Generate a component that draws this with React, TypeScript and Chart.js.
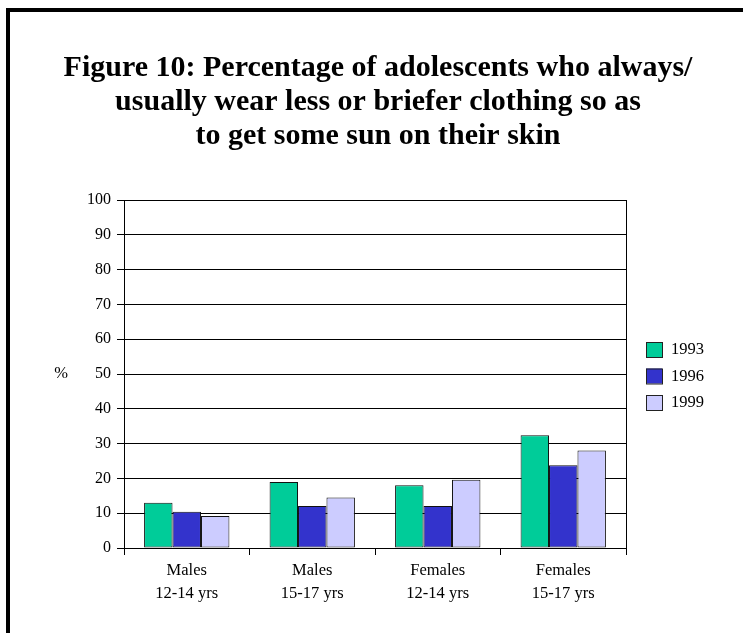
import React, { useEffect, useRef } from "react";
import { Chart, registerables } from "chart.js";

Chart.register(...registerables);

const categories: string[][] = [
  ["Males", "12-14 yrs"],
  ["Males", "15-17 yrs"],
  ["Females", "12-14 yrs"],
  ["Females", "15-17 yrs"],
];
const years = ["1993", "1996", "1999"];
const values1993 = [13, 19, 18, 32.4];
const values1996 = [10.4, 12.1, 12.1, 23.8];
const values1999 = [9.2, 14.5, 19.6, 28];
const yearColors = ["#00CC99", "#3333CC", "#CCCCFF"];
const titleLines = [
  "Figure 10: Percentage of adolescents who always/",
  "usually wear less or briefer clothing so as",
  "to get some sun on their skin",
];
const yAxisLabel = "%";
const Y_MIN = 0;
const Y_MAX = 100;
const Y_STEP = 10;

const SERIF = '"Liberation Serif", "Times New Roman", serif';
const W = 743;
const H = 633;

// Outer frame, heading, "%" label, plot border and the year key.
const decorations = {
  id: "decorations",
  afterDraw(chart: any) {
    const { ctx, chartArea } = chart;
    ctx.save();

    // frame
    ctx.fillStyle = "#000";
    ctx.fillRect(6, 8, 4, H - 8);
    ctx.fillRect(6, 8, W - 6, 4);

    // heading
    ctx.font = `bold 30px ${SERIF}`;
    ctx.textAlign = "center";
    ctx.textBaseline = "alphabetic";
    titleLines.forEach((line, i) => {
      ctx.fillText(line, 378, 76 + i * 34);
    });

    // plot border on the right
    ctx.strokeStyle = "#000";
    ctx.lineWidth = 1;
    ctx.beginPath();
    ctx.moveTo(Math.round(chartArea.right) + 0.5, chartArea.top);
    ctx.lineTo(Math.round(chartArea.right) + 0.5, chartArea.bottom);
    ctx.stroke();

    // y axis unit
    const yScale = chart.scales.y;
    ctx.font = `16.5px ${SERIF}`;
    ctx.textAlign = "center";
    ctx.textBaseline = "middle";
    ctx.fillText(yAxisLabel, 61, yScale.getPixelForValue(50));

    // key
    ctx.textAlign = "left";
    chart.data.datasets.forEach((ds: any, i: number) => {
      const top = 342 + i * 26.5;
      ctx.fillStyle = ds.backgroundColor;
      ctx.fillRect(646, top, 16, 15);
      ctx.strokeStyle = "#222";
      ctx.strokeRect(646.5, top + 0.5, 16, 15);
      ctx.fillStyle = "#000";
      ctx.fillText(ds.label, 671, top + 8);
    });

    ctx.restore();
  },
};

export default function App() {
  const canvasRef = useRef<HTMLCanvasElement | null>(null);

  useEffect(() => {
    const canvas = canvasRef.current;
    if (!canvas) return;
    const seriesValues = [values1993, values1996, values1999];
    const chart = new Chart(canvas, {
      type: "bar",
      data: {
        labels: categories,
        datasets: years.map((year, i) => ({
          label: year,
          data: seriesValues[i],
          backgroundColor: yearColors[i],
          borderColor: "#111",
          borderWidth: 1,
          borderSkipped: false,
          categoryPercentage: 0.68,
          barPercentage: 1,
        })),
      },
      options: {
        responsive: false,
        animation: false,
        devicePixelRatio: 1,
        layout: { padding: { left: 0, top: 200, right: 117, bottom: 0 } },
        plugins: {
          legend: { display: false },
          title: { display: false },
          tooltip: { enabled: false },
        },
        scales: {
          x: {
            grid: {
              offset: true,
              drawOnChartArea: false,
              drawTicks: true,
              tickLength: 7,
              color: "#000",
            },
            border: { color: "#000" },
            ticks: {
              color: "#000",
              font: { family: SERIF, size: 16.5, lineHeight: 1.4 },
              padding: 4,
              maxRotation: 0,
              autoSkip: false,
            },
            afterFit: (scale: any) => {
              scale.height = 85;
            },
          },
          y: {
            min: Y_MIN,
            max: Y_MAX,
            grid: { color: "#000", tickLength: 7 },
            border: { color: "#000" },
            ticks: {
              stepSize: Y_STEP,
              color: "#000",
              font: { family: SERIF, size: 16 },
              padding: 6,
            },
            afterFit: (scale: any) => {
              scale.width = 124;
            },
          },
        },
      },
      plugins: [decorations],
    });
    return () => chart.destroy();
  }, []);

  return (
    <div style={{ position: "absolute", left: 0, top: 0, width: W, height: H, background: "#fff" }}>
      <canvas ref={canvasRef} width={W} height={H} style={{ display: "block" }} />
    </div>
  );
}
